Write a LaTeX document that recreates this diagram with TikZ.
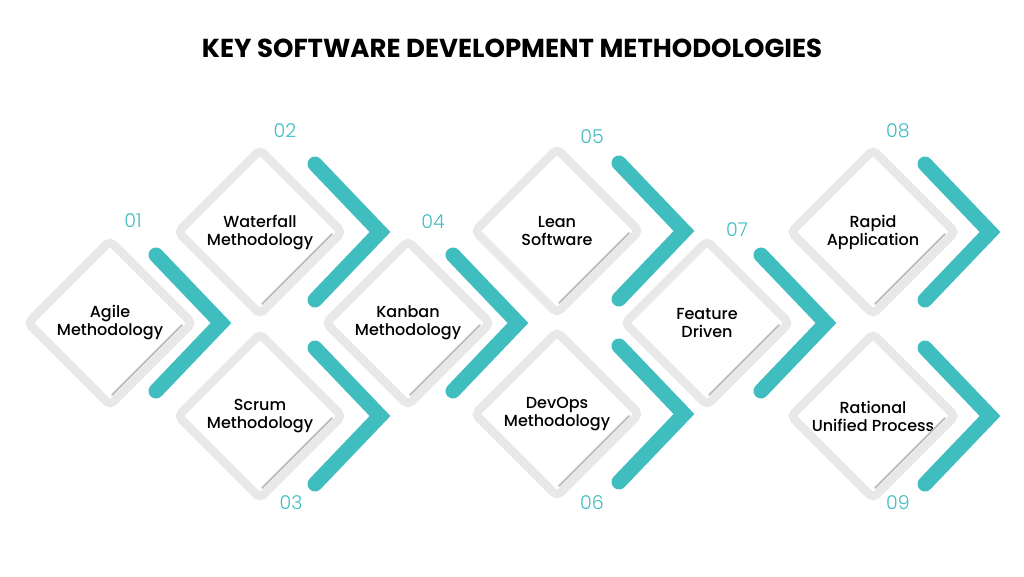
\documentclass[tikz,border=0pt]{standalone}
\usepackage{fontspec}
\setmainfont{Poppins}
\newfontfamily\labelfont{Poppins Medium}
\newfontfamily\numfont{Poppins Light}
\usepackage{xcolor}
\usepackage{tikz}
\usetikzlibrary{shapes.geometric,calc}
\definecolor{teal1}{HTML}{40BDBE}
\definecolor{ring}{HTML}{E8E8E8}
\definecolor{shade}{HTML}{BFBFBF}

\begin{document}
\begin{tikzpicture}[x=1pt,y=-1pt,
	box/.style={diamond,draw=ring,fill=white,line width=8.5pt,rounded corners=5pt,minimum width=164pt,minimum height=164pt,inner sep=0pt,outer sep=0pt,align=center,font=\labelfont\fontsize{16}{18}\selectfont},
	num/.style={text=teal1,font=\numfont\fontsize{19}{19}\selectfont},
	chevron/.style={draw=teal1,line width=15pt,line cap=round},
	shadeline/.style={draw=shade,line width=2pt,line cap=round}]
	\fill[white] (0,0) rectangle (1024,576);
	\useasboundingbox (0,0) rectangle (1024,576);
	\node at (512,48) (title) {\fontsize{26}{30}\selectfont\bfseries KEY SOFTWARE DEVELOPMENT METHODOLOGIES};
	% diamonds
	\node[box] at (110,323) (1) {Agile\\Methodology};
	\node[box] at (260,232) (2) {Waterfall\\Methodology};
	\node[box] at (260,416) (3) {Scrum\\Methodology};
	\node[box] at (408,323) (4) {Kanban\\Methodology};
	\node[box] at (557,231) (5) {Lean\\Software};
	\node[box] at (557,414) (6) {DevOps\\Methodology};
	\node[box] at (707,323) (7) {Feature\\Driven};
	\node[box] at (873,232) (8) {Rapid\\Application};
	\node[box] at (873,416) (9) {Rational\\Unified Process};
	\foreach \n in {1,...,9}
		\draw[shadeline] ([shift={(-10pt,-2pt)}]\n.east) -- ([shift={(2pt,10pt)}]\n.south);
	% chevrons
	\foreach \n/\dx in {1/111,2/120,3/120,4/110,5/127,6/127,7/119,8/117,9/117}
		\draw[chevron] ($(\n)+(\dx-65,-68)$) -- ++(65,68) -- ++(-65,68);
	% numbers
	\node[num] at (133,221) (n1) {01};
	\node[num] at (285,131) (n2) {02};
	\node[num] at (291,503) (n3) {03};
	\node[num] at (433,222) (n4) {04};
	\node[num] at (592,137) (n5) {05};
	\node[num] at (592,503) (n6) {06};
	\node[num] at (737,230) (n7) {07};
	\node[num] at (898,131) (n8) {08};
	\node[num] at (898,503) (n9) {09};
\end{tikzpicture}
\end{document}
